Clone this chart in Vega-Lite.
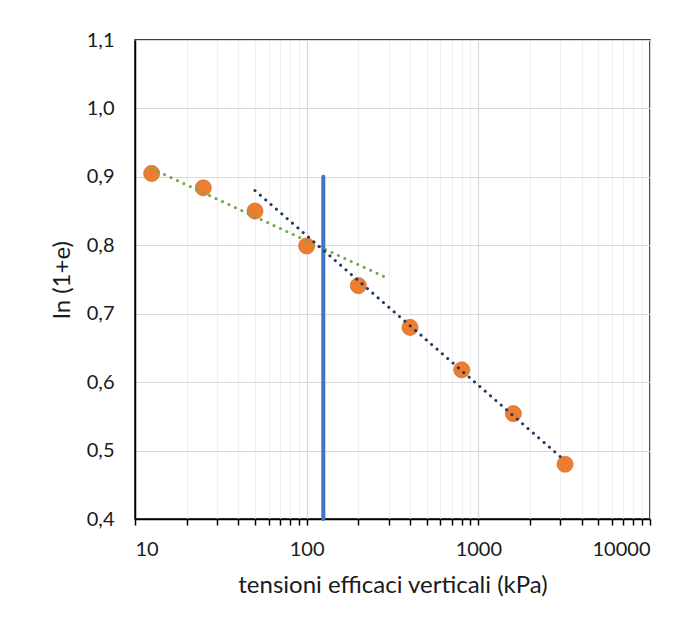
{
  "$schema": "https://vega.github.io/schema/vega-lite/v6.json",
  "width": 515,
  "height": 479,
  "autosize": {"type": "none"},
  "padding": {"left": 135, "top": 40, "right": 47, "bottom": 115},
  "background": "white",
  "config": {
    "font": "Lato",
    "view": {"stroke": "black", "strokeWidth": 1.5}
  },
  "datasets": {
    "points": [
      {"sigma": 12.5, "lne": 0.905},
      {"sigma": 25, "lne": 0.884},
      {"sigma": 50, "lne": 0.850},
      {"sigma": 100, "lne": 0.799},
      {"sigma": 200, "lne": 0.741},
      {"sigma": 400, "lne": 0.680},
      {"sigma": 800, "lne": 0.618},
      {"sigma": 1600, "lne": 0.554},
      {"sigma": 3200, "lne": 0.480}
    ],
    "green": [
      {"sigma": 12.5, "lne": 0.912},
      {"sigma": 300, "lne": 0.751}
    ],
    "navy": [
      {"sigma": 50, "lne": 0.880},
      {"sigma": 3200, "lne": 0.485}
    ],
    "vline": [
      {"sigma": 125, "lo": 0.4, "hi": 0.9}
    ]
  },
  "layer": [
    {
      "data": {"name": "vline"},
      "mark": {"type": "rule", "color": "#4472C4", "strokeWidth": 4, "strokeCap": "round"},
      "encoding": {
        "x": {
          "field": "sigma", "type": "quantitative",
          "scale": {"type": "log", "domain": [10, 10000], "nice": false},
          "axis": {
            "title": "tensioni efficaci verticali (kPa)",
            "titleFontSize": 24, "titleFontWeight": "normal", "titleColor": "#1a1a1a",
            "titlePadding": 14,
            "values": [10,20,30,40,50,60,70,80,90,100,200,300,400,500,600,700,800,900,1000,2000,3000,4000,5000,6000,7000,8000,9000,10000],
            "labelExpr": "indexof([10,100,1000,10000], datum.value) >= 0 ? '' + datum.value : ''",
            "labelOverlap": false,
            "labelFontSize": 20, "labelColor": "#1a1a1a", "labelPadding": 14,
            "tickColor": "black", "tickSize": 6, "tickWidth": 1.5,
            "domainColor": "black", "domainWidth": 1.5,
            "gridColor": {"condition": {"test": "indexof([10,100,1000,10000], datum.value) >= 0", "value": "#d9d9d9"}, "value": "#efefef"},
            "gridWidth": 1.2
          }
        },
        "y": {
          "field": "lo", "type": "quantitative",
          "scale": {"domain": [0.4, 1.1], "nice": false, "zero": false},
          "axis": {
            "title": "ln (1+e)",
            "titleFontSize": 24, "titleFontWeight": "normal", "titleColor": "#1a1a1a",
            "titlePadding": 12,
            "values": [0.4, 0.5, 0.6, 0.7, 0.8, 0.9, 1.0, 1.1],
            "labelExpr": "replace(format(datum.value, '.1f'), '.', ',')",
            "labelFontSize": 20, "labelColor": "#1a1a1a", "labelPadding": 21,
            "ticks": false,
            "domainColor": "black", "domainWidth": 1.5,
            "gridColor": "#d9d9d9", "gridWidth": 1.2
          }
        },
        "y2": {"field": "hi"}
      }
    },
    {
      "data": {"name": "points"},
      "mark": {"type": "point", "filled": true, "shape": "circle", "size": 260, "color": "#ED7D31", "opacity": 1, "stroke": "#c8661f", "strokeWidth": 0.6},
      "encoding": {
        "x": {"field": "sigma", "type": "quantitative"},
        "y": {"field": "lne", "type": "quantitative"}
      }
    },
    {
      "data": {"name": "green"},
      "mark": {"type": "line", "color": "#70AD47", "strokeWidth": 3, "strokeCap": "round", "strokeDash": [0.1, 7]},
      "encoding": {
        "x": {"field": "sigma", "type": "quantitative"},
        "y": {"field": "lne", "type": "quantitative"}
      }
    },
    {
      "data": {"name": "navy"},
      "mark": {"type": "line", "color": "#203864", "strokeWidth": 3, "strokeCap": "round", "strokeDash": [0.1, 7]},
      "encoding": {
        "x": {"field": "sigma", "type": "quantitative"},
        "y": {"field": "lne", "type": "quantitative"}
      }
    }
  ]
}
